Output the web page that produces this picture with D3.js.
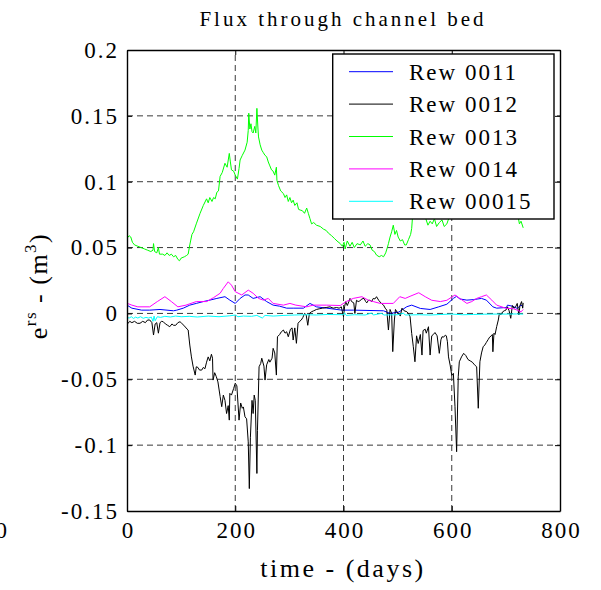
<!DOCTYPE html>
<html>
<head>
<meta charset="utf-8">
<script src="https://cdn.jsdelivr.net/npm/d3@7"></script>
<style>
  html, body { margin: 0; padding: 0; background: #fff; }
  svg text { font-family: "Liberation Serif", "Times New Roman", serif; fill: #000; }
</style>
</head>
<body>
<svg id="chart" width="601" height="590"></svg>
<script>
// Tick values
const xTicks = [0, 200, 400, 600, 800];
const yTicks = [-0.15, -0.1, -0.05, 0, 0.05, 0.1, 0.15, 0.2];

// Series legend labels and colours
const seriesNames = ["Rew 0011", "Rew 0012", "Rew 0013", "Rew 0014", "Rew 00015"];
const seriesColors = ["#0000ff", "#000000", "#00ff00", "#ff00ff", "#00ffff"];

// [day, flux m^3]
const rew0011 = [[0,0.0063],[9,0.004],[27,0.0025],[42,0.0025],[61,0.003],[86,0.002],[92,0.0025],[104,0.004],[116,0.0063],[128,0.0076],[141,0.009],[153,0.0101],[166,0.0114],[181,0.0127],[190,0.0101],[200,0.0076],[209,0.0114],[218,0.014],[224,0.014],[233,0.0114],[246,0.0127],[258,0.009],[270,0.0063],[282,0.0055],[295,0.004],[307,0.004],[326,0.004],[338,0.0076],[350,0.005],[369,0.004],[397,0.0025],[418,0.0025],[474,0.002],[486,0.0],[502,0.001],[517,0.0051],[526,0.0063],[542,0.0038],[560,0.003],[576,0.005],[591,0.007],[603,0.0114],[609,0.013],[615,0.011],[628,0.0101],[640,0.0105],[655,0.0114],[664,0.0101],[676,0.005],[683,0.004],[701,0.0045],[703,0.0063],[712,0.0055],[721,0.0038],[728,0.0063],[732,0.005]];

const rew0012 = [[0,-0.006],[2,-0.0075],[5,-0.006],[9,-0.007],[14,-0.006],[19,-0.0075],[24,-0.0075],[29,-0.006],[34,-0.007],[38,-0.005],[42,-0.005],[46,-0.007],[49,-0.0164],[52,-0.008],[55,-0.007],[58,-0.015],[61,-0.007],[64,-0.006],[67,-0.0063],[71,-0.008],[75,-0.009],[79,-0.0101],[83,-0.008],[86,-0.009],[90,-0.009],[94,-0.007],[98,-0.0063],[101,-0.0075],[105,-0.009],[109,-0.011],[113,-0.0126],[116,-0.024],[119,-0.033],[122,-0.04],[126,-0.0468],[128,-0.0405],[131,-0.041],[134,-0.043],[138,-0.043],[141,-0.041],[144,-0.042],[147,-0.037],[150,-0.033],[153,-0.036],[156,-0.031],[158,-0.034],[159,-0.0506],[162,-0.045],[165,-0.048],[168,-0.052],[172,-0.063],[175,-0.0708],[178,-0.062],[181,-0.066],[184,-0.076],[187,-0.07],[189,-0.081],[190,-0.0607],[193,-0.062],[197,-0.057],[200,-0.053],[203,-0.055],[207,-0.081],[210,-0.068],[213,-0.072],[215,-0.071],[218,-0.0785],[221,-0.08],[224,-0.0975],[226,-0.133],[228,-0.094],[231,-0.066],[233,-0.076],[235,-0.062],[237,-0.066],[240,-0.1215],[241,-0.089],[244,-0.0405],[247,-0.038],[249,-0.034],[253,-0.04],[255,-0.0506],[258,-0.039],[262,-0.035],[264,-0.037],[268,-0.034],[270,-0.0265],[273,-0.03],[276,-0.0468],[278,-0.0177],[282,-0.016],[285,-0.014],[289,-0.0126],[292,-0.015],[295,-0.0139],[298,-0.0177],[302,-0.012],[305,-0.011],[307,-0.0202],[310,-0.011],[313,-0.0227],[316,-0.0075],[319,-0.006],[322,-0.005],[325,-0.003],[328,0.0],[331,-0.001],[334,-0.009],[337,0.0],[341,0.0013],[345,0.002],[350,0.003],[355,0.0035],[361,0.004],[368,0.0045],[375,0.005],[381,0.004],[387,0.0045],[392,0.004],[396,0.005],[400,-0.0025],[402,0.005],[404,0.0089],[407,0.006],[410,0.009],[412,0.0114],[415,0.009],[419,0.008],[421,0.0],[424,0.01],[427,0.009],[430,0.0095],[434,0.011],[438,0.0114],[441,0.009],[443,0.008],[446,0.01],[449,0.01],[452,0.009],[455,0.0114],[458,0.011],[461,0.0127],[465,0.01],[469,0.008],[474,0.0063],[477,0.004],[480,0.0025],[483,-0.0126],[486,0.003],[489,0.0],[491,-0.029],[494,-0.005],[496,0.003],[499,0.001],[502,0.0],[505,-0.002],[508,0.004],[512,0.002],[517,0.0013],[520,0.0],[523,-0.0025],[526,-0.0152],[529,-0.0253],[532,-0.0367],[535,-0.017],[538,-0.0228],[542,-0.016],[545,-0.0316],[547,-0.013],[551,-0.012],[553,-0.015],[557,-0.0101],[560,-0.0316],[563,-0.017],[566,-0.016],[569,-0.0145],[573,-0.017],[577,-0.0303],[580,-0.02],[582,-0.0177],[585,-0.018],[588,-0.0165],[590,-0.017],[592,-0.0215],[594,-0.033],[597,-0.0392],[600,-0.047],[603,-0.0455],[606,-0.0708],[609,-0.105],[612,-0.0481],[614,-0.0367],[618,-0.033],[622,-0.0303],[626,-0.032],[630,-0.035],[634,-0.036],[638,-0.037],[642,-0.039],[646,-0.0405],[649,-0.072],[652,-0.0367],[655,-0.03],[658,-0.0253],[661,-0.024],[664,-0.022],[667,-0.02],[670,-0.018],[673,-0.017],[675,-0.016],[676,-0.0291],[678,-0.015],[680,-0.016],[683,-0.01],[686,-0.005],[688,0.0],[691,-0.001],[694,0.0012],[697,0.002],[700,0.0025],[703,0.005],[706,0.002],[709,-0.0037],[712,0.006],[715,0.004],[718,0.005],[721,0.0076],[724,-0.0012],[726,0.006],[729,0.009],[731,0.004],[732,0.008]];

const rew0013 = [[0,0.057],[4,0.059],[7,0.058],[10,0.054],[14,0.052],[20,0.051],[26,0.05],[32,0.049],[38,0.048],[44,0.047],[48,0.048],[49,0.053],[51,0.047],[55,0.046],[58,0.05],[60,0.045],[66,0.045],[70,0.044],[74,0.046],[78,0.044],[82,0.045],[86,0.043],[90,0.044],[94,0.041],[97,0.04],[100,0.042],[106,0.043],[110,0.044],[113,0.045],[116,0.052],[120,0.06],[123,0.062],[128,0.068],[135,0.076],[141,0.082],[147,0.087],[150,0.084],[153,0.088],[157,0.085],[160,0.088],[163,0.087],[166,0.092],[169,0.093],[172,0.104],[176,0.107],[181,0.114],[185,0.111],[189,0.1215],[191,0.115],[193,0.109],[197,0.108],[200,0.105],[204,0.102],[207,0.11],[209,0.1165],[213,0.12],[218,0.124],[222,0.13],[224,0.139],[225,0.152],[227,0.14],[229,0.144],[231,0.138],[233,0.137],[236,0.142],[238,0.137],[240,0.1557],[242,0.14],[243,0.134],[246,0.128],[249,0.124],[252,0.122],[255,0.12],[258,0.119],[261,0.115],[264,0.112],[267,0.109],[270,0.108],[273,0.105],[276,0.111],[277,0.101],[280,0.097],[284,0.093],[289,0.091],[292,0.088],[295,0.09],[298,0.085],[301,0.088],[304,0.084],[307,0.086],[310,0.082],[314,0.084],[317,0.079],[320,0.0785],[324,0.078],[328,0.076],[332,0.08],[335,0.076],[338,0.072],[341,0.068],[345,0.069],[350,0.067],[357,0.066],[363,0.064],[368,0.063],[372,0.061],[378,0.059],[383,0.057],[388,0.055],[394,0.053],[398,0.051],[401,0.054],[403,0.049],[407,0.055],[412,0.051],[416,0.054],[420,0.05],[425,0.053],[431,0.052],[436,0.055],[440,0.051],[445,0.053],[449,0.052],[453,0.048],[457,0.047],[461,0.0443],[466,0.043],[470,0.044],[474,0.043],[478,0.046],[481,0.05],[483,0.053],[486,0.058],[489,0.062],[492,0.067],[495,0.06],[498,0.063],[501,0.058],[505,0.055],[509,0.056],[513,0.052],[516,0.052],[520,0.056],[524,0.06],[526,0.0646],[528,0.076],[532,0.082],[537,0.085],[542,0.083],[548,0.078],[552,0.072],[556,0.067],[560,0.07],[564,0.068],[568,0.072],[572,0.066],[577,0.069],[582,0.071],[586,0.066],[591,0.068],[596,0.074],[602,0.08],[610,0.085],[620,0.088],[630,0.086],[640,0.084],[650,0.082],[660,0.083],[670,0.08],[680,0.078],[690,0.079],[700,0.077],[710,0.078],[716,0.076],[719,0.072],[722,0.075],[725,0.068],[728,0.07],[732,0.065]];

const rew0014 = [[0,0.0077],[9,0.0063],[20,0.005],[42,0.005],[56,0.009],[70,0.0127],[82,0.009],[94,0.005],[109,0.0063],[128,0.009],[147,0.009],[160,0.012],[172,0.0153],[178,0.019],[187,0.024],[193,0.0215],[200,0.0165],[212,0.014],[224,0.0177],[233,0.0153],[243,0.0114],[252,0.0101],[261,0.0114],[270,0.0076],[289,0.0063],[301,0.0076],[312,0.0063],[332,0.005],[344,0.0063],[369,0.0063],[394,0.006],[405,0.009],[418,0.0114],[434,0.0127],[446,0.01],[455,0.009],[468,0.0076],[492,0.0076],[504,0.0127],[514,0.0114],[523,0.013],[539,0.0157],[551,0.0127],[563,0.01],[579,0.009],[591,0.01],[606,0.014],[615,0.0114],[628,0.0076],[637,0.009],[646,0.0114],[655,0.0127],[664,0.014],[674,0.0101],[683,0.0063],[701,0.0038],[712,0.0038],[721,0.0025],[728,0.0012],[732,0.003]];

const rew00015 = [[0,-0.003],[4,-0.0035],[8,-0.0025],[12,-0.0038],[16,-0.0028],[20,-0.0035],[25,-0.0025],[30,-0.0037],[35,-0.003],[40,-0.0035],[45,-0.0028],[48,-0.006],[50,-0.002],[52,-0.0055],[56,-0.0025],[62,-0.003],[70,-0.0022],[80,-0.0027],[90,-0.002],[100,-0.0025],[115,-0.0022],[130,-0.0027],[150,-0.002],[170,-0.0025],[190,-0.0018],[200,-0.0012],[205,-0.0025],[215,-0.002],[230,-0.0022],[240,-0.0015],[250,-0.0035],[255,-0.0015],[270,-0.002],[290,-0.0015],[310,-0.0012],[330,-0.001],[350,-0.0012],[370,-0.0008],[400,-0.001],[402,0.0005],[405,-0.0015],[420,-0.001],[440,-0.0012],[452,0.0003],[455,-0.0012],[470,0.0],[475,-0.0012],[500,-0.001],[511,0.0002],[514,-0.0012],[540,-0.001],[560,-0.0012],[580,-0.0008],[600,-0.0005],[620,-0.001],[640,-0.0008],[660,-0.0006],[680,-0.0005],[700,-0.0005],[720,-0.0004],[732,-0.0005]];

const seriesData = [rew0011, rew0012, rew0013, rew0014, rew00015];

const svg = d3.select("#chart");
svg.append("rect").attr("width", 601).attr("height", 590).attr("fill", "#fff");

const plotLeft = 127, plotRight = 560, plotTop = 50, plotBottom = 511;
const x = d3.scaleLinear().domain([0, 800]).range([plotLeft, plotRight]);
const y = d3.scaleLinear().domain([-0.15, 0.2]).range([plotBottom, plotTop]);

const fmt = d => String(+d.toFixed(2));

// dashed grid
const grid = svg.append("g").attr("stroke", "#3a3a3a").attr("stroke-width", 1).attr("stroke-dasharray", "6,4");
grid.selectAll("line.gx").data(xTicks.slice(1, -1)).join("line").attr("class", "gx")
  .attr("x1", d => x(d)).attr("x2", d => x(d)).attr("y1", plotBottom).attr("y2", plotTop);
grid.selectAll("line.gy").data(yTicks.slice(1, -1)).join("line").attr("class", "gy")
  .attr("x1", plotLeft).attr("x2", plotRight).attr("y1", d => y(d)).attr("y2", d => y(d));

// series
svg.append("clipPath").attr("id", "plotClip").append("rect")
  .attr("x", plotLeft).attr("y", plotTop).attr("width", plotRight - plotLeft).attr("height", plotBottom - plotTop);
const line = d3.line().x(d => x(d[0])).y(d => y(d[1]));
svg.append("g").attr("clip-path", "url(#plotClip)")
  .selectAll("path").data(seriesData).join("path")
  .attr("d", line).attr("fill", "none")
  .attr("stroke", (d, i) => seriesColors[i]).attr("stroke-width", 1)
  .attr("stroke-linejoin", "round");

// axes with inward ticks
const styleAxis = g => {
  g.selectAll(".domain").attr("stroke", "#000").attr("stroke-width", 1.4);
  g.selectAll(".tick line").attr("stroke", "#000").attr("stroke-width", 1);
  g.selectAll(".tick text").attr("font-size", 23).attr("letter-spacing", 2)
    .attr("font-family", "Liberation Serif, serif").attr("fill", "#000");
};
svg.append("g").attr("transform", `translate(0,${plotBottom})`)
  .call(d3.axisBottom(x).tickValues(xTicks).tickFormat(fmt).tickSize(-5).tickSizeOuter(0).tickPadding(11))
  .call(styleAxis)
  .call(g => g.selectAll(".tick text").attr("dx", 1));
svg.append("g").attr("transform", `translate(${plotLeft},0)`)
  .call(d3.axisLeft(y).tickValues(yTicks).tickFormat(fmt).tickSize(-5).tickSizeOuter(0).tickPadding(8))
  .call(styleAxis);
svg.append("g").attr("transform", `translate(0,${plotTop})`)
  .call(d3.axisTop(x).tickValues(xTicks).tickFormat("").tickSize(-5).tickSizeOuter(0))
  .call(styleAxis);
svg.append("g").attr("transform", `translate(${plotRight},0)`)
  .call(d3.axisRight(y).tickValues(yTicks).tickFormat("").tickSize(-5).tickSizeOuter(0))
  .call(styleAxis);

// title and axis labels
svg.append("text").attr("x", 343).attr("y", 26).attr("text-anchor", "middle")
  .attr("font-size", 21).attr("letter-spacing", 3).text("Flux through channel bed");
svg.append("text").attr("x", 343).attr("y", 577).attr("text-anchor", "middle")
  .attr("font-size", 26).attr("letter-spacing", 2.5).text("time - (days)");

const yl = svg.append("text").attr("transform", "translate(47,286) rotate(-90)")
  .attr("text-anchor", "middle").attr("font-size", 26).attr("letter-spacing", 1.5);
yl.append("tspan").text("e");
yl.append("tspan").attr("dy", -11).attr("font-size", 17).text("rs");
yl.append("tspan").attr("dy", 11).text(" - (m");
yl.append("tspan").attr("dy", -11).attr("font-size", 17).text("3");
yl.append("tspan").attr("dy", 11).text(")");

// neighbouring tick label at the left edge
svg.append("text").attr("x", 7).attr("y", 538).attr("text-anchor", "end")
  .attr("font-size", 23).text("0");

// legend
const lg = svg.append("g");
lg.append("rect").attr("x", 332.7).attr("y", 54).attr("width", 221.3).attr("height", 165)
  .attr("fill", "#fff").attr("stroke", "#000").attr("stroke-width", 1.4);
const rows = lg.selectAll("g.row").data(seriesNames).join("g").attr("class", "row")
  .attr("transform", (d, i) => `translate(0,${71.7 + i * 32.4})`);
rows.append("line").attr("x1", 349).attr("x2", 393).attr("y1", 0).attr("y2", 0)
  .attr("stroke", (d, i) => seriesColors[i]).attr("stroke-width", 1);
rows.append("text").attr("x", 409).attr("y", 8).attr("font-size", 23).attr("letter-spacing", 2)
  .text(d => d);
</script>
</body>
</html>
